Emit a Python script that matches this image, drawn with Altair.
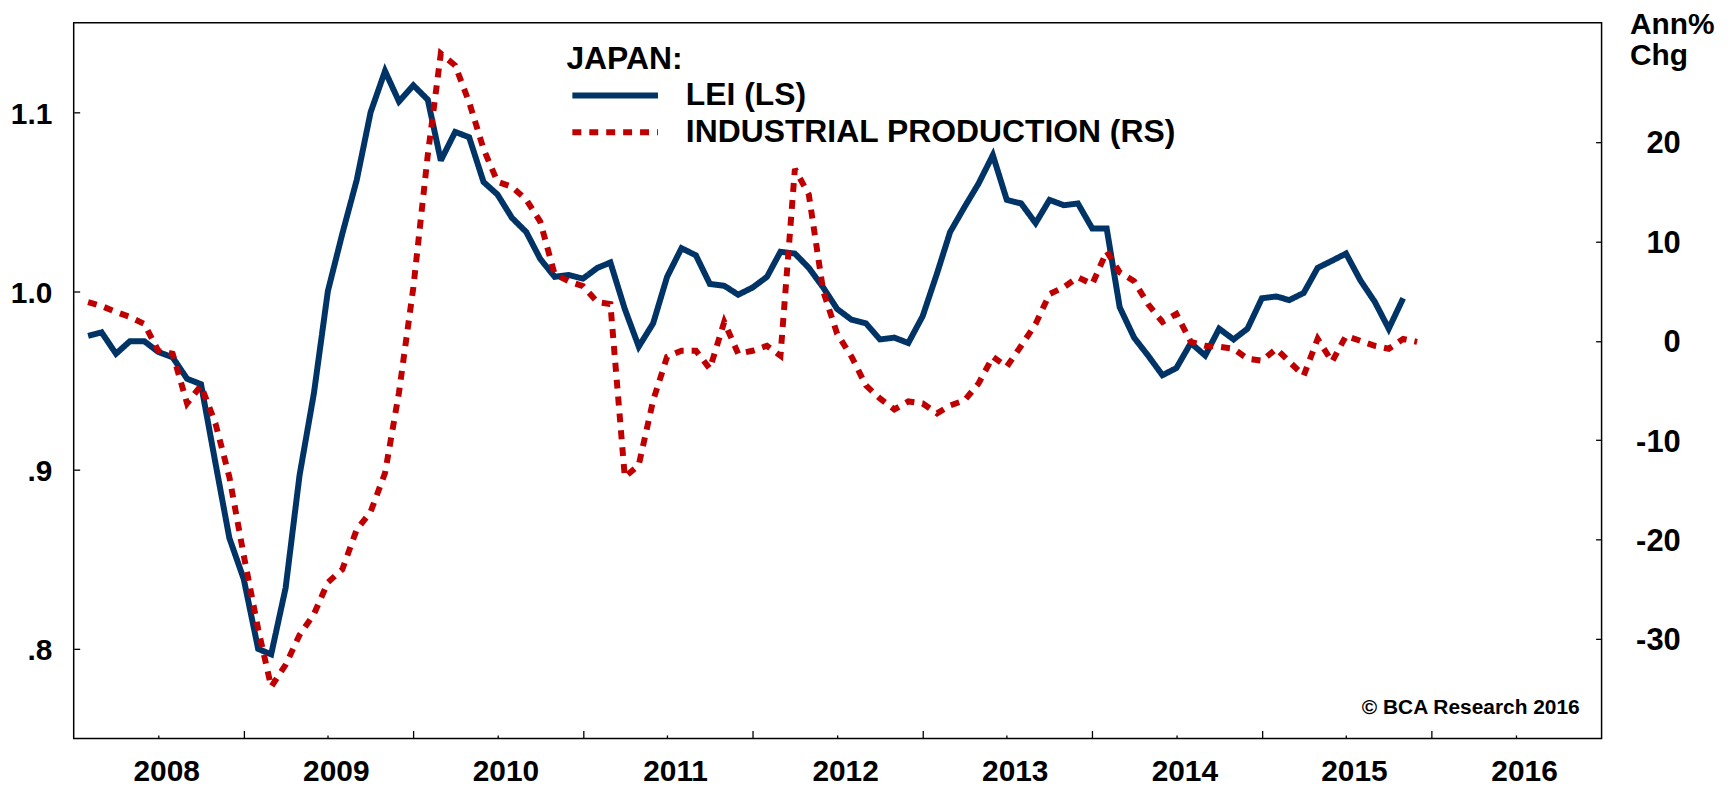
import altair as alt
import pandas as pd

FONT = "Liberation Sans"

# ---- data (monthly, first point Feb 2008) ----
start_month = "2008-02-01"

lei_values = [
    0.975, 0.977, 0.965, 0.972, 0.972, 0.966, 0.963, 0.951, 0.948, 0.904,
    0.862, 0.839, 0.800, 0.797, 0.834, 0.897, 0.943, 1.000, 1.032, 1.062,
    1.100, 1.123, 1.106, 1.115, 1.107, 1.073, 1.089, 1.086, 1.061, 1.054,
    1.041, 1.033, 1.018, 1.008, 1.009, 1.007, 1.013, 1.016, 0.990, 0.969,
    0.982, 1.008, 1.024, 1.020, 1.004, 1.003, 0.998, 1.002, 1.008, 1.022,
    1.021, 1.013, 1.002, 0.990, 0.984, 0.982, 0.973, 0.974, 0.971, 0.986,
    1.010, 1.033, 1.047, 1.060, 1.076, 1.051, 1.049, 1.038, 1.051, 1.048,
    1.049, 1.035, 1.035, 0.991, 0.974, 0.964, 0.953, 0.957, 0.971, 0.964,
    0.979, 0.973, 0.979, 0.996, 0.997, 0.995, 0.999, 1.013, 1.017, 1.021,
    1.006, 0.994, 0.979, 0.996,
]

ip_values = [
    3.9, 3.5, 2.9, 2.4, 1.7, -1.0, -1.3, -6.3, -4.5, -8.3,
    -13.7, -21.6, -29.0, -34.8, -32.6, -29.6, -27.5, -24.3, -23.0, -19.0,
    -17.2, -13.3, -5.2, 5.4, 18.7, 28.9, 27.7, 24.0, 19.3, 16.0,
    15.5, 14.2, 12.0, 6.7, 6.0, 5.5, 3.9, 3.7, -13.7, -12.5,
    -6.0, -1.6, -1.0, -1.0, -2.8, 1.9, -1.3, -1.0, -0.5, -1.5,
    17.3, 14.7, 5.0, 0.7, -1.6, -4.5, -5.8, -6.9, -6.1, -6.3,
    -7.3, -6.5, -6.0, -4.3, -1.6, -2.6, -0.5, 1.7, 4.7, 5.4,
    6.4, 5.7, 9.0, 6.9, 6.0, 3.7, 1.9, 2.7, -0.1, -0.5,
    -0.6, -0.8, -1.8, -2.0, -0.8, -2.1, -3.5, 0.2, -2.1, 0.5,
    0.0, -0.5, -0.8, 0.2, -0.1,
]

series_names = ["LEI (LS)", "INDUSTRIAL PRODUCTION (RS)"]
series_colors = ["#003366", "#C00000"]
series_dashes = [[1, 0], [9, 8]]

left_ticks = [0.8, 0.9, 1.0, 1.1]
right_ticks = [-30, -20, -10, 0, 10, 20]
year_labels = list(range(2008, 2017))
year_bounds = list(range(2009, 2017))
legend_title = "JAPAN:"
right_title = ["Ann%", "Chg"]
credit = "© BCA Research 2016"

lei_df = pd.DataFrame({
    "date": pd.date_range(start_month, periods=len(lei_values), freq="MS"),
    "value": lei_values,
    "series": series_names[0],
})
ip_df = pd.DataFrame({
    "date": pd.date_range(start_month, periods=len(ip_values), freq="MS"),
    "value": ip_values,
    "series": series_names[1],
})

x_scale = alt.Scale(
    domain=[alt.DateTime(year=2008, month=1, date=1), alt.DateTime(year=2017, month=1, date=1)],
    nice=False,
)
color_scale = alt.Scale(domain=series_names, range=series_colors)
dash_scale = alt.Scale(domain=series_names, range=series_dashes)

legend = alt.Legend(
    title=legend_title, orient="none", legendX=495, legendY=21, direction="vertical",
    titleFont=FONT, titleFontSize=32, titleFontWeight="bold", titleColor="black",
    titleAnchor="start", titlePadding=4,
    labelFont=FONT, labelFontSize=32, labelFontWeight="bold", labelColor="black",
    labelOffset=25, labelLimit=700,
    symbolType="stroke", symbolSize=7396, symbolStrokeWidth=6, symbolOffset=3,
    clipHeight=32, rowPadding=5, padding=0,
)

axis_bounds = alt.Axis(
    orient="bottom", values=[alt.DateTime(year=y, month=1, date=1) for y in year_bounds],
    offset=-8, tickSize=8, tickWidth=1.3, tickColor="black",
    labels=False, domain=False, grid=False, title=None,
)
axis_years = alt.Axis(
    orient="bottom", values=[alt.DateTime(year=y, month=7, date=1) for y in year_labels],
    offset=-3.5, tickSize=3.5, tickWidth=1.3, tickColor="black",
    domain=False, grid=False, title=None, format="%Y",
    labelFont=FONT, labelFontSize=30, labelFontWeight="bold", labelColor="black",
    labelPadding=18, labelOffset=8, labelFlush=False, labelOverlap=False,
)
left_axis = alt.Axis(
    orient="left", values=left_ticks, offset=-6, tickSize=6, tickWidth=1.3, tickColor="black",
    domain=False, grid=False, title=None,
    labelExpr="datum.value >= 1 ? format(datum.value, '.1f') : replace(format(datum.value, '.1f'), '0.', '.')",
    labelFont=FONT, labelFontSize=30, labelFontWeight="bold", labelColor="black",
    labelPadding=22, labelOffset=2, labelOverlap=False, labelFlush=False,
)
right_axis = alt.Axis(
    orient="right", values=right_ticks, offset=-6, tickSize=6, tickWidth=1.3, tickColor="black",
    domain=False, grid=False,
    labelExpr="datum.value + ''",
    labelFont=FONT, labelFontSize=31, labelFontWeight="bold", labelColor="black",
    labelAlign="right", labelPadding=79, labelOffset=2, labelOverlap=False, labelFlush=False,
    title=right_title, titleAngle=0, titleAlign="left", titleBaseline="top",
    titleX=34, titleY=-13, titleFont=FONT, titleFontSize=30, titleFontWeight="bold",
    titleColor="black", titleLineHeight=31,
)

lei = alt.Chart(lei_df).mark_line(
    strokeWidth=6, strokeJoin="miter", strokeMiterLimit=3, strokeCap="butt"
).encode(
    x=alt.X("date:T", scale=x_scale, axis=axis_bounds),
    y=alt.Y("value:Q", scale=alt.Scale(domain=[0.75, 1.15], zero=False, nice=False), axis=left_axis),
    color=alt.Color("series:N", scale=color_scale, legend=legend),
    strokeDash=alt.StrokeDash("series:N", scale=dash_scale, legend=legend),
)

ip = alt.Chart(ip_df).mark_line(
    strokeWidth=6, strokeJoin="miter", strokeMiterLimit=3, strokeCap="butt"
).encode(
    x=alt.X("date:T", scale=x_scale, axis=axis_years),
    y=alt.Y("value:Q", scale=alt.Scale(domain=[-40, 32], zero=False, nice=False), axis=right_axis),
    color=alt.Color("series:N", scale=color_scale, legend=legend),
    strokeDash=alt.StrokeDash("series:N", scale=dash_scale, legend=legend),
)

note = alt.Chart(pd.DataFrame({"t": [credit]})).mark_text(
    align="right", baseline="alphabetic", font=FONT, fontSize=21, fontWeight="bold", color="black"
).encode(x=alt.value(1513), y=alt.value(694), text="t:N")

chart = (
    alt.layer(lei, ip, note)
    .resolve_scale(y="independent")
    .resolve_axis(x="independent")
    .properties(
        width=1535, height=719,
        padding={"left": 66, "top": 13, "right": 124, "bottom": 49},
        autosize=alt.AutoSizeParams(type="none"),
        background="white",
    )
    .configure_view(stroke="black", strokeWidth=1.5)
)

chart.save("out.html", embed_options={"renderer": "svg", "actions": False})
